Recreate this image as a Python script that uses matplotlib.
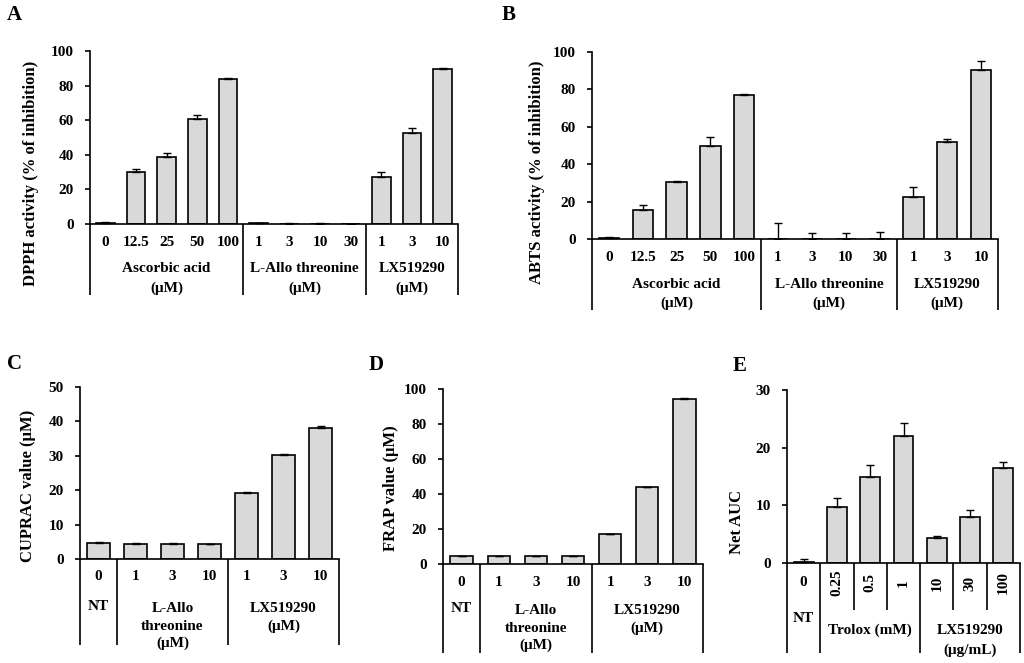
import matplotlib.pyplot as plt
import numpy as np

plt.rcParams['font.family'] = ['Liberation Serif', 'DejaVu Serif']
plt.rcParams['font.weight'] = 'bold'

W, H = 1024, 663
BAR_FILL = '#d9d9d9'
TICK_FS = 11

# ---- data ----
# A: DPPH
dpph_ticks = ['0', '12.5', '25', '50', '100', '1', '3', '10', '30', '1', '3', '10']
dpph_mean = [0.3, 30.2, 38.5, 60.5, 84.0, 0.4, 0.2, 0.2, 0.0, 27.2, 52.5, 89.4]
dpph_err = [0.7, 1.8, 2.5, 2.4, 0.3, 0.2, 0.1, 0.1, 0.0, 2.6, 3.0, 0.5]

# B: ABTS
abts_ticks = ['0', '12.5', '25', '50', '100', '1', '3', '10', '30', '1', '3', '10']
abts_mean = [0.3, 15.5, 30.5, 49.8, 77.0, 0.0, 0.0, 0.0, 0.0, 22.2, 52.0, 90.5]
abts_err = [0.6, 2.5, 0.3, 4.5, 0.3, 8.5, 3.0, 3.0, 3.5, 5.5, 1.3, 4.5]

# C: CUPRAC
cuprac_ticks = ['0', '1', '3', '10', '1', '3', '10']
cuprac_mean = [4.7, 4.5, 4.5, 4.4, 19.3, 30.2, 38.2]
cuprac_err = [0.1, 0.1, 0.1, 0.1, 0.3, 0.4, 0.4]

# D: FRAP
frap_ticks = ['0', '1', '3', '10', '1', '3', '10']
frap_mean = [4.6, 4.6, 4.6, 4.6, 17.0, 44.0, 94.5]
frap_err = [0.1, 0.1, 0.1, 0.1, 0.2, 0.2, 0.5]

# E: ORAC
orac_ticks = ['0', '0.25', '0.5', '1', '10', '30', '100']
orac_mean = [0.1, 9.7, 15.0, 22.0, 4.4, 8.0, 16.5]
orac_err = [0.6, 1.6, 2.0, 2.2, 0.3, 1.2, 1.1]


def px_axes(fig, left, right, top, bottom):
    return fig.add_axes([left / W, 1 - bottom / H, (right - left) / W, (bottom - top) / H])


def frac(ax_top, ax_bot, y):
    # pixel y (from top of image) -> axes fraction
    return (ax_bot - y) / (ax_bot - ax_top)


def fig_text(fig, x, y, s, **kw):
    fig.text(x / W, 1 - y / H, s, **kw)


def draw_bars(ax, mean, err, ymax, ystep):
    x = np.arange(len(mean))
    ax.bar(x, mean, width=0.6, color=BAR_FILL, edgecolor='black', linewidth=1.2, zorder=2)
    ax.errorbar(x, mean, yerr=[np.zeros(len(err)), err], fmt='none', ecolor='black',
                elinewidth=1.0, capsize=2.8, capthick=1.0, zorder=3)
    ax.set_xlim(-0.5, len(mean) - 0.5)
    ax.set_ylim(0, ymax)
    ax.set_yticks(np.arange(0, ymax + 0.1, ystep))
    ax.set_xticks([])
    for s in ['top', 'right']:
        ax.spines[s].set_visible(False)
    ax.spines['left'].set_linewidth(1.2)
    ax.spines['bottom'].set_linewidth(1.2)
    ax.tick_params(axis='y', direction='out', length=3.5, width=1.2, pad=8, labelsize=TICK_FS)
    for lab in ax.get_yticklabels():
        lab.set_fontweight('bold')


def vline(ax, xpos, y_frac):
    ax.plot([xpos, xpos], [0, y_frac], color='black', lw=1.2, clip_on=False,
            transform=ax.get_xaxis_transform(), solid_capstyle='butt')


def tick_row(ax, labels, y_frac, rotation=0, keep_first=False):
    for i, t in enumerate(labels):
        rot = 0 if (keep_first and i == 0) else rotation
        ax.text(i, y_frac, t, ha='center', va='center', rotation=rot, fontsize=TICK_FS,
                fontweight='bold', transform=ax.get_xaxis_transform())


def group_text(ax, xc, y_frac, s):
    ax.text(xc, y_frac, s, ha='center', va='center', fontsize=TICK_FS, fontweight='bold',
            transform=ax.get_xaxis_transform())


fig = plt.figure(figsize=(W / 100, H / 100), dpi=100)

# ---------- A ----------
top, bot = 51, 224
ax = px_axes(fig, 90, 458, top, bot)
draw_bars(ax, dpph_mean, dpph_err, 100, 20)
yb = frac(top, bot, 295)
for xp in [-0.5, 4.5, 8.5, 11.5]:
    vline(ax, xp, yb)
tick_row(ax, dpph_ticks, frac(top, bot, 242))
group_text(ax, 2, frac(top, bot, 269), 'Ascorbic acid')
group_text(ax, 2, frac(top, bot, 288), '(μM)')
group_text(ax, 6.5, frac(top, bot, 269), 'L-Allo threonine')
group_text(ax, 6.5, frac(top, bot, 288), '(μM)')
group_text(ax, 10, frac(top, bot, 269), 'LX519290')
group_text(ax, 10, frac(top, bot, 288), '(μM)')
fig_text(fig, 31, 173, 'DPPH activity (% of inhibition)', rotation=90, ha='center',
         va='center', fontsize=12, fontweight='bold')
fig_text(fig, 7, 15, 'A', ha='left', va='center', fontsize=15, fontweight='bold')

# ---------- B ----------
top, bot = 52, 239
ax = px_axes(fig, 592, 998, top, bot)
draw_bars(ax, abts_mean, abts_err, 100, 20)
yb = frac(top, bot, 310)
for xp in [-0.5, 4.5, 8.5, 11.5]:
    vline(ax, xp, yb)
tick_row(ax, abts_ticks, frac(top, bot, 257))
group_text(ax, 2, frac(top, bot, 284), 'Ascorbic acid')
group_text(ax, 2, frac(top, bot, 303), '(μM)')
group_text(ax, 6.5, frac(top, bot, 284), 'L-Allo threonine')
group_text(ax, 6.5, frac(top, bot, 303), '(μM)')
group_text(ax, 10, frac(top, bot, 284), 'LX519290')
group_text(ax, 10, frac(top, bot, 303), '(μM)')
fig_text(fig, 537, 172, 'ABTS activity (% of inhibition)', rotation=90, ha='center',
         va='center', fontsize=12, fontweight='bold')
fig_text(fig, 502, 15, 'B', ha='left', va='center', fontsize=15, fontweight='bold')

# ---------- C ----------
top, bot = 387, 559
ax = px_axes(fig, 80, 339, top, bot)
draw_bars(ax, cuprac_mean, cuprac_err, 50, 10)
yb = frac(top, bot, 645)
for xp in [-0.5, 0.5, 3.5, 6.5]:
    vline(ax, xp, yb)
tick_row(ax, cuprac_ticks, frac(top, bot, 577))
group_text(ax, 0, frac(top, bot, 606), 'NT')
group_text(ax, 2, frac(top, bot, 609), 'L-Allo')
group_text(ax, 2, frac(top, bot, 626), 'threonine')
group_text(ax, 2, frac(top, bot, 643), '(μM)')
group_text(ax, 5, frac(top, bot, 609), 'LX519290')
group_text(ax, 5, frac(top, bot, 626), '(μM)')
fig_text(fig, 28, 486, 'CUPRAC value (μM)', rotation=90, ha='center',
         va='center', fontsize=12, fontweight='bold')
fig_text(fig, 7, 364, 'C', ha='left', va='center', fontsize=15, fontweight='bold')

# ---------- D ----------
top, bot = 389, 564
ax = px_axes(fig, 443, 703, top, bot)
draw_bars(ax, frap_mean, frap_err, 100, 20)
yb = frac(top, bot, 653)
for xp in [-0.5, 0.5, 3.5, 6.5]:
    vline(ax, xp, yb)
tick_row(ax, frap_ticks, frac(top, bot, 582))
group_text(ax, 0, frac(top, bot, 609), 'NT')
group_text(ax, 2, frac(top, bot, 610), 'L-Allo')
group_text(ax, 2, frac(top, bot, 628), 'threonine')
group_text(ax, 2, frac(top, bot, 645), '(μM)')
group_text(ax, 5, frac(top, bot, 610), 'LX519290')
group_text(ax, 5, frac(top, bot, 628), '(μM)')
fig_text(fig, 391, 488, 'FRAP value (μM)', rotation=90, ha='center',
         va='center', fontsize=12, fontweight='bold')
fig_text(fig, 369, 365, 'D', ha='left', va='center', fontsize=15, fontweight='bold')

# ---------- E ----------
top, bot = 390, 563
ax = px_axes(fig, 787, 1020, top, bot)
draw_bars(ax, orac_mean, orac_err, 30, 10)
yb = frac(top, bot, 653)
ys = frac(top, bot, 610)
for xp in [-0.5, 0.5, 3.5, 6.5]:
    vline(ax, xp, yb)
for xp in [1.5, 2.5, 4.5, 5.5]:
    vline(ax, xp, ys)
tick_row(ax, orac_ticks, frac(top, bot, 583), rotation=90, keep_first=True)
group_text(ax, 0, frac(top, bot, 618), 'NT')
group_text(ax, 2, frac(top, bot, 630), 'Trolox (mM)')
group_text(ax, 5, frac(top, bot, 630), 'LX519290')
group_text(ax, 5, frac(top, bot, 650), '(μg/mL)')
fig_text(fig, 737, 522, 'Net AUC', rotation=90, ha='center',
         va='center', fontsize=12, fontweight='bold')
fig_text(fig, 733, 366, 'E', ha='left', va='center', fontsize=15, fontweight='bold')

fig.savefig('out.png', dpi=100, facecolor='white')
